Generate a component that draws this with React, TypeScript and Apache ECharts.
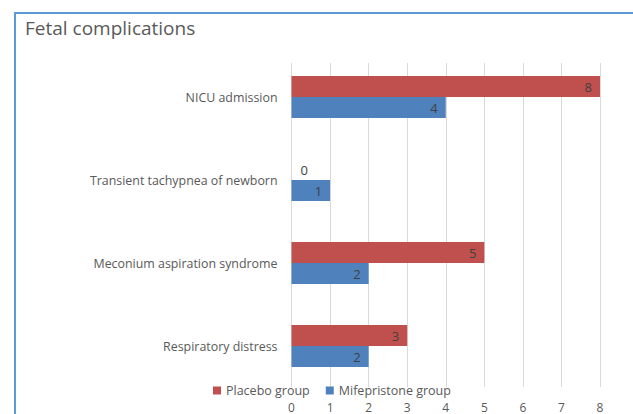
import React, { useEffect, useRef } from "react";
import * as echarts from "echarts";

// Complications listed top to bottom
const categories = [
  "NICU admission",
  "Transient tachypnea of newborn",
  "Meconium aspiration syndrome",
  "Respiratory distress",
];
const placeboValues = [8, 0, 5, 3];
const mifepristoneValues = [4, 1, 2, 2];
const seriesNames = ["Placebo group", "Mifepristone group"];
const axisMin = 0;
const axisMax = 8;
const axisStep = 1;

const FONT = "'Open Sans', 'Noto Sans', sans-serif";
const TEXT = "#595959";

function barData(values: number[]) {
  return values.map((v) =>
    v === 0
      ? { value: v, label: { position: "insideLeft", distance: 9 } }
      : { value: v }
  );
}

export default function App() {
  const ref = useRef<HTMLDivElement>(null);

  useEffect(() => {
    if (!ref.current) return;
    const chart = echarts.init(ref.current, undefined, { renderer: "svg" });
    const label = {
      show: true,
      position: "insideRight",
      distance: 8,
      color: "#404040",
      fontFamily: FONT,
      fontSize: 13,
    };
    chart.setOption({
      animation: false,
      backgroundColor: "#ffffff",
      title: {
        text: "Fetal complications",
        left: 20,
        top: 13,
        textStyle: {
          fontFamily: FONT,
          fontSize: 19,
          fontWeight: "normal",
          color: TEXT,
        },
      },
      graphic: [
        {
          type: "rect",
          shape: { x: 15, y: 13, width: 700, height: 500 },
          style: { fill: "none", stroke: "#5b9bd5", lineWidth: 2 },
          silent: true,
        },
      ],
      legend: {
        data: seriesNames,
        left: 208,
        top: 379,
        itemWidth: 8,
        itemHeight: 8,
        itemGap: 16,
        icon: "rect",
        textStyle: {
          fontFamily: FONT,
          fontSize: 12.5,
          lineHeight: 13,
          color: TEXT,
        },
      },
      grid: [
        { left: 291.5, right: 33, top: 55.5, height: 332 },
        { left: 291.5, right: 33, top: 63, height: 324 },
      ],
      xAxis: [
        {
          type: "value",
          gridIndex: 0,
          min: axisMin,
          max: axisMax,
          interval: axisStep,
          axisLabel: { show: false },
          axisLine: { show: false },
          axisTick: { show: false },
          splitLine: { show: false },
        },
        {
          type: "value",
          gridIndex: 1,
          min: axisMin,
          max: axisMax,
          interval: axisStep,
          axisLabel: {
            margin: 14,
            color: TEXT,
            fontFamily: FONT,
            fontSize: 12,
            lineHeight: 12,
          },
          axisLine: { show: false },
          axisTick: { show: false },
          splitLine: { show: true, lineStyle: { color: "#d9d9d9", width: 1 } },
        },
      ],
      yAxis: [
        {
          type: "category",
          gridIndex: 0,
          inverse: true,
          data: categories,
          axisLine: { show: false },
          axisTick: { show: false },
          axisLabel: {
            margin: 14,
            color: TEXT,
            fontFamily: FONT,
            fontSize: 12.4,
          },
        },
        {
          type: "category",
          gridIndex: 1,
          inverse: true,
          data: categories,
          show: false,
        },
      ],
      series: [
        {
          name: seriesNames[0],
          type: "bar",
          xAxisIndex: 0,
          yAxisIndex: 0,
          data: barData(placeboValues),
          barWidth: 21,
          barGap: "0%",
          itemStyle: { color: "#c0504d" },
          label,
        },
        {
          name: seriesNames[1],
          type: "bar",
          xAxisIndex: 0,
          yAxisIndex: 0,
          data: barData(mifepristoneValues),
          barWidth: 21,
          barGap: "0%",
          itemStyle: { color: "#4f81bd" },
          label,
        },
      ],
    });
    return () => chart.dispose();
  }, []);

  return (
    <div
      ref={ref}
      style={{ position: "fixed", left: 0, top: 0, width: 633, height: 414 }}
    />
  );
}
